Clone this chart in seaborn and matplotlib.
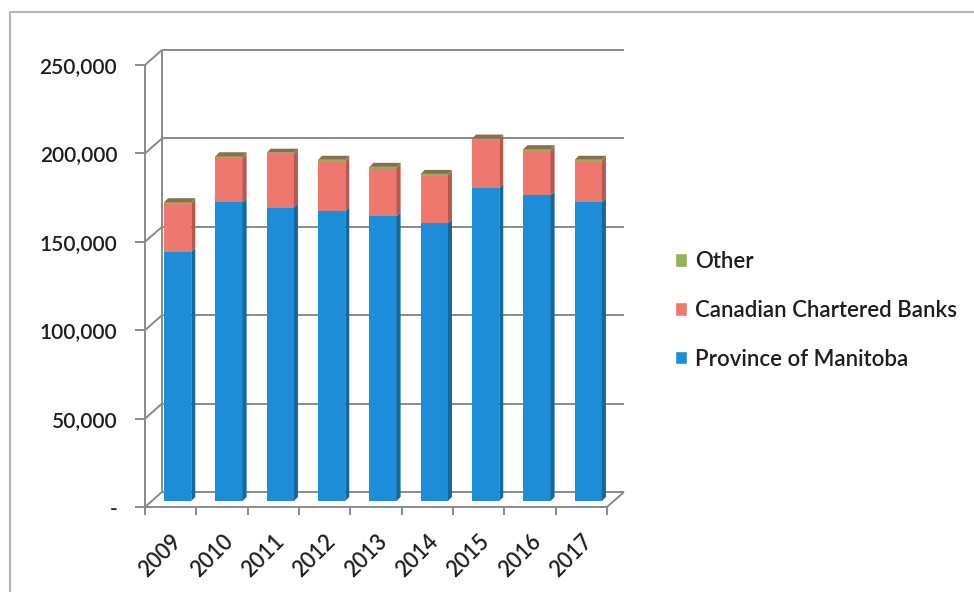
import matplotlib
matplotlib.use("Agg")
import matplotlib.pyplot as plt
import matplotlib.transforms as mtransforms
from matplotlib.patches import Polygon, Patch
from matplotlib.lines import Line2D
import numpy as np
import pandas as pd
import seaborn as sns

# ---- data -----------------------------------------------------------------
years = ["2009", "2010", "2011", "2012", "2013", "2014", "2015", "2016", "2017"]
province_of_manitoba = [141000, 169000, 166000, 164000, 161000, 157000, 177000, 173000, 169000]
canadian_chartered_banks = [27000, 25000, 30000, 28000, 27000, 27000, 27000, 25000, 23000]
other = [1000, 1000, 1000, 1000, 1000, 1000, 1000, 1000, 1000]

series_labels = ["Other", "Canadian Chartered Banks", "Province of Manitoba"]
y_ticks = [0, 50000, 100000, 150000, 200000, 250000]
y_tick_labels = ["-", "50,000", "100,000", "150,000", "200,000", "250,000"]

# ---- style ----------------------------------------------------------------
sns.set_theme(style="white")
plt.rcParams["font.family"] = ["Lato", "DejaVu Sans"]
plt.rcParams["font.weight"] = "semibold"

TEXT = "#1e1e1e"
GRID = "#8a8a8a"
FRONT = {"other": "#93b05a", "banks": "#ef786e", "manitoba": "#1c8dd6"}
SIDE = {"other": "#6d7a3f", "banks": "#b9574e", "manitoba": "#15689e"}
TOP = {"other": "#86704f", "banks": "#c9665c", "manitoba": "#4aa6e0"}

W, H = 974, 592
fig = plt.figure(figsize=(W / 100, H / 100), dpi=100)
fig.patch.set_facecolor("white")

# the axes box is the front plane of the 3-D chart
ax = fig.add_axes([145 / W, 85 / H, (607 - 145) / W, (527 - 85) / H])
ax.set_facecolor("none")

df = pd.DataFrame({
    "year": years,
    "manitoba": province_of_manitoba,
    "banks": canadian_chartered_banks,
    "other": other,
})
df["lvl_banks"] = df["manitoba"] + df["banks"]
df["lvl_other"] = df["lvl_banks"] + df["other"]

BAR_W = 0.53
for col, key in [("lvl_other", "other"), ("lvl_banks", "banks"), ("manitoba", "manitoba")]:
    sns.barplot(data=df, x="year", y=col, color=FRONT[key], saturation=1,
                width=BAR_W, linewidth=0, ax=ax, zorder=3)

ax.set_xlim(-0.5, len(years) - 0.5)
ax.set_ylim(0, 250000)
ax.set_xlabel("")
ax.set_ylabel("")

# depth offsets in pixels: wall depth, bar face position, bar thickness
WALL = np.array([17.0, 15.0])
FACE = np.array([7.0, 6.0])
BAR_D = np.array([4.0, 4.0])

face_tr = mtransforms.offset_copy(ax.transData, fig=fig, x=FACE[0], y=FACE[1], units="dots")
for p in ax.patches:
    p.set_transform(face_tr)
    p.set_clip_on(False)

ident = mtransforms.IdentityTransform()


def px(x, y):
    return np.array(ax.transData.transform((x, y)))


def seg(a, b, z=1, **kw):
    ax.add_line(Line2D([a[0], b[0]], [a[1], b[1]], transform=ident, clip_on=False,
                       zorder=z, **kw))


x0, x1 = -0.5, len(years) - 0.5
grid_kw = dict(color=GRID, lw=1.4, solid_capstyle="butt")

# back wall grid, left wall diagonals and floor edges
for yv in y_ticks:
    seg(px(x0, yv) + WALL, px(x1, yv) + WALL, **grid_kw)
    seg(px(x0, yv), px(x0, yv) + WALL, **grid_kw)
seg(px(x0, 0) + WALL, px(x0, 250000) + WALL, **grid_kw)
seg(px(x1, 0), px(x1, 0) + WALL, **grid_kw)

# side and top faces of the columns
for i in range(len(years)):
    xr = i + BAR_W / 2
    xl = i - BAR_W / 2
    stacks = [(0, df["manitoba"][i], "manitoba"),
              (df["manitoba"][i], df["lvl_banks"][i], "banks"),
              (df["lvl_banks"][i], df["lvl_other"][i], "other")]
    for lo, hi, key in stacks:
        a = px(xr, lo) + FACE
        b = px(xr, hi) + FACE
        ax.add_patch(Polygon([a, b, b + BAR_D, a + BAR_D], closed=True, transform=ident,
                             facecolor=SIDE[key], edgecolor="none", clip_on=False, zorder=4))
    top_v = df["lvl_other"][i]
    a = px(xl, top_v) + FACE
    b = px(xr, top_v) + FACE
    ax.add_patch(Polygon([a, b, b + BAR_D, a + BAR_D], closed=True, transform=ident,
                         facecolor=TOP["other"], edgecolor="none", clip_on=False, zorder=4))

# front axes
for side in ["top", "right"]:
    ax.spines[side].set_visible(False)
for side in ["left", "bottom"]:
    ax.spines[side].set_color(GRID)
    ax.spines[side].set_linewidth(1.4)
    ax.spines[side].set_zorder(5)

ax.set_yticks(y_ticks)
ax.set_yticklabels(y_tick_labels)
ax.tick_params(axis="y", direction="out", length=7, width=1.4, color=GRID, pad=13,
               labelsize=15, labelcolor=TEXT, left=True)

ax.set_xticks(range(len(years)))
ax.set_xticklabels(years, rotation=45, ha="right", rotation_mode="anchor")
ax.set_xticks(np.arange(-0.5, len(years), 1.0), minor=True)
ax.tick_params(axis="x", which="major", length=0, pad=17, labelsize=15.5, labelcolor=TEXT)
ax.tick_params(axis="x", which="minor", direction="out", length=6, width=1.4, color=GRID,
               bottom=True)

# legend
handles = [Patch(facecolor=FRONT["other"]), Patch(facecolor=FRONT["banks"]),
           Patch(facecolor=FRONT["manitoba"])]
fig.legend(handles, series_labels, loc="upper left",
           bbox_to_anchor=(675 / W, 1 - 251 / H), frameon=False, fontsize=16,
           handlelength=0.55, handleheight=0.55, handletextpad=0.35, labelspacing=1.25,
           borderpad=0, borderaxespad=0, labelcolor=TEXT)

# outer chart frame
fig.add_artist(Line2D([10 / W, 10 / W], [0, 1 - 12 / H], transform=fig.transFigure,
                      color="#b5b5b5", lw=1.5))
fig.add_artist(Line2D([10 / W, 1], [1 - 12 / H, 1 - 12 / H], transform=fig.transFigure,
                      color="#b5b5b5", lw=1.5))

fig.savefig("out.png", dpi=100, facecolor="white")
